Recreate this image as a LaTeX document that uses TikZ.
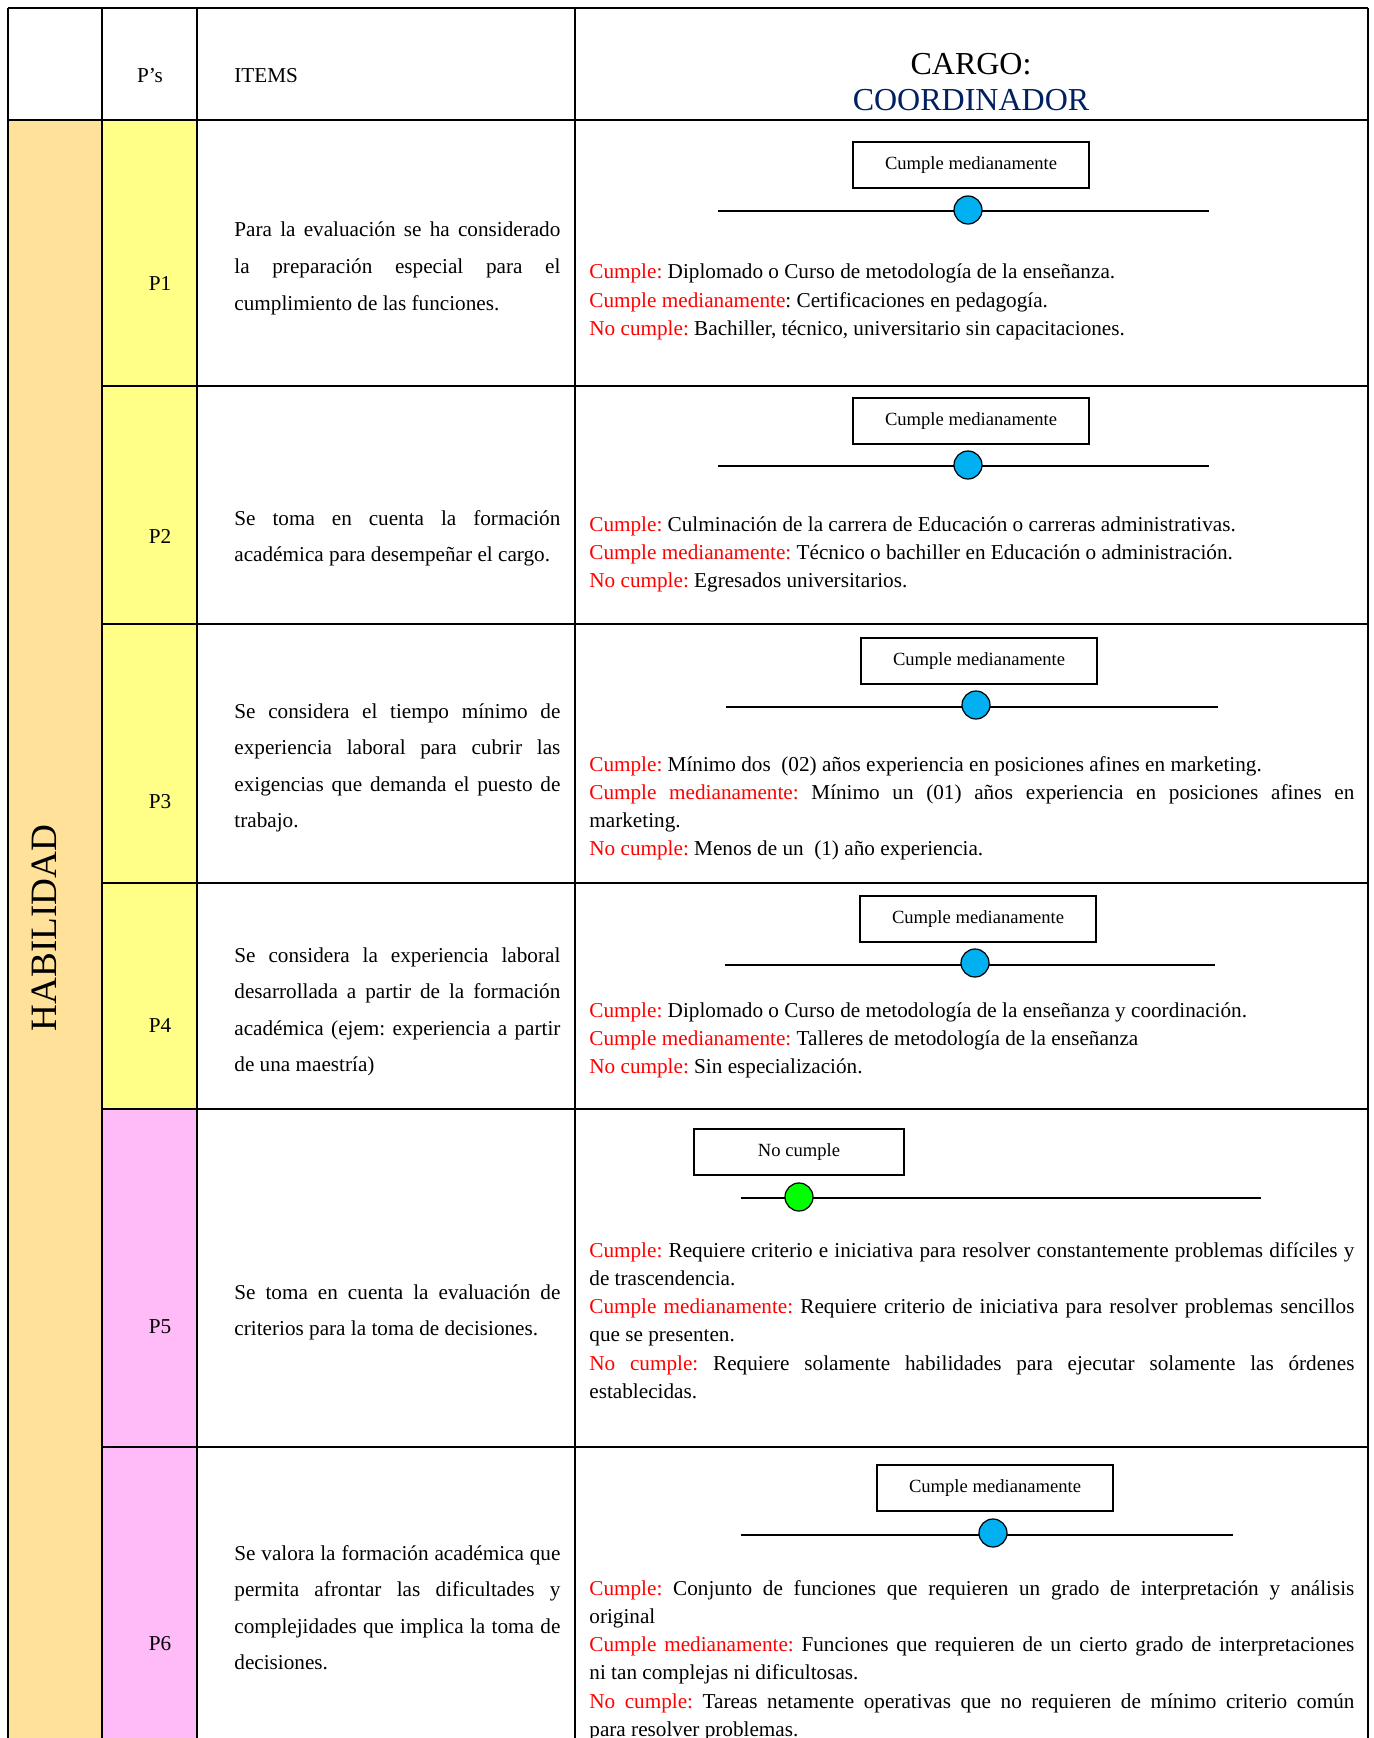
\documentclass[tikz,border=0pt]{standalone}
\usepackage{fontspec}
\setmainfont{Liberation Serif}[WordSpace={1,1.5,0}]
\usetikzlibrary{positioning}
\definecolor{habil}{HTML}{FFE199}
\definecolor{ylw}{HTML}{FFFF88}
\definecolor{pnk}{HTML}{FFBBF7}
\definecolor{dotblue}{HTML}{00B0F0}
\definecolor{navy}{HTML}{002060}
\hyphenpenalty=10000
\exhyphenpenalty=10000
\tolerance=9999
\frenchspacing
\tikzset{font=\fontsize{10.6}{13}\selectfont}
\tikzstyle{grid}=[line width=1.3pt]
\tikzstyle{item}=[anchor=base west,inner sep=0pt,text width=163pt,align=justify,font=\fontsize{10.6}{18.3}\selectfont]
\tikzstyle{crit}=[anchor=base west,inner sep=0pt,text width=382.5pt,align=justify,font=\fontsize{10.6}{14.15}\selectfont]
\tikzstyle{vbox}=[draw,line width=1pt,minimum width=118pt,minimum height=23pt,font=\fontsize{9.3}{11}\selectfont]
\tikzstyle{circ}=[circle,draw,line width=0.6pt,fill=dotblue,minimum size=14pt,inner sep=0pt]
\tikzstyle{bar}=[line width=0.7pt]
\newcommand{\rojo}[1]{\textcolor{red}{#1}}

\begin{document}
\begin{tikzpicture}[x=0.5pt,y=-0.5pt]
\useasboundingbox (0,0) rectangle (1373,1738);
% cell fills
\fill[habil] (8,120) rectangle (102,1745);
\fill[ylw] (102,120) rectangle (197,1109);
\fill[pnk] (102,1109) rectangle (197,1745);
% table lines
\draw[grid] (8,8) -- (1368,8);
\draw[grid] (8,120) -- (1368,120);
\foreach \y in {386,624,883,1109,1447}
  \draw[grid] (102,\y) -- (1368,\y);
\foreach \x in {8,102,197,575,1368}
  \draw[grid] (\x,8) -- (\x,1745);
% header
\node (ps) at (150,76) {P’s};
\node[anchor=west,inner sep=0pt] (items) at (234,76) {ITEMS};
\node[font=\fontsize{16}{18}\selectfont] (cargo) at (971,64) {CARGO:};
\node[font=\fontsize{16}{18}\selectfont,text=navy] (coord) at (971,100) {COORDINADOR};
\node[rotate=90,font=\fontsize{18.6}{20}\selectfont] (hab) at (44,928) {HABILIDAD};
% P's
\node (P1) at (160,284) {P1};
\node (P2) at (160,536) {P2};
\node (P3) at (160,802) {P3};
\node (P4) at (160,1026) {P4};
\node (P5) at (160,1327) {P5};
\node (P6) at (160,1644) {P6};
% items
\node[item] (I1) at (234,237) {Para la evaluación se ha considerado la preparación especial para el cumplimiento de las funciones.};
\node[item] (I2) at (234,525) {Se toma en cuenta la formación académica para desempeñar el cargo.};
\node[item] (I3) at (234,718) {Se considera el tiempo mínimo de experiencia laboral para cubrir las exigencias que demanda el puesto de trabajo.};
\node[item] (I4) at (234,962) {Se considera la experiencia laboral desarrollada a partir de la formación académica (ejem: experiencia a partir de una maestría)};
\node[item] (I5) at (234,1299) {Se toma en cuenta la evaluación de criterios para la toma de decisiones.};
\node[item] (I6) at (234,1560) {Se valora la formación académica que\linebreak permita afrontar las dificultades y complejidades que implica la toma de decisiones.};
% sliders
\node[vbox] (B1) at (971,165) {Cumple medianamente};
\coordinate (s1a) at (718,211); \coordinate (s1b) at (1209,211);
\draw[bar] (s1a) -- (s1b);
\node[circ] (D1) at (968,210) {};
\node[vbox] (B2) at (971,421) {Cumple medianamente};
\coordinate (s2a) at (718,466); \coordinate (s2b) at (1209,466);
\draw[bar] (s2a) -- (s2b);
\node[circ] (D2) at (968,465) {};
\node[vbox] (B3) at (979,661) {Cumple medianamente};
\coordinate (s3a) at (726,707); \coordinate (s3b) at (1218,707);
\draw[bar] (s3a) -- (s3b);
\node[circ] (D3) at (976,705) {};
\node[vbox] (B4) at (978,919) {Cumple medianamente};
\coordinate (s4a) at (725,965); \coordinate (s4b) at (1215,965);
\draw[bar] (s4a) -- (s4b);
\node[circ] (D4) at (975,963) {};
\node[vbox,minimum width=105pt] (B5) at (799,1152) {No cumple};
\coordinate (s5a) at (741,1198); \coordinate (s5b) at (1261,1198);
\draw[bar] (s5a) -- (s5b);
\node[circ,fill=green] (D5) at (799,1197) {};
\node[vbox] (B6) at (995,1488) {Cumple medianamente};
\coordinate (s6a) at (741,1535); \coordinate (s6b) at (1233,1535);
\draw[bar] (s6a) -- (s6b);
\node[circ] (D6) at (993,1533) {};
% criteria
\node[crit] (C1) at (589,279) {\rojo{Cumple:} Diplomado o Curso de metodología de la enseñanza.\par
\rojo{Cumple medianamente}: Certificaciones en pedagogía.\par
\rojo{No cumple:} Bachiller, técnico, universitario sin capacitaciones.};
\node[crit] (C2) at (589,531) {\rojo{Cumple:} Culminación de la carrera de Educación o carreras administrativas.\par
\rojo{Cumple medianamente:} Técnico o bachiller en Educación o administración.\par
\rojo{No cumple:} Egresados universitarios.};
\node[crit] (C3) at (589,771) {\rojo{Cumple:} Mínimo dos\ \ (02) años experiencia en posiciones afines en marketing.\par
\rojo{Cumple medianamente:} Mínimo un (01) años experiencia en posiciones afines en marketing.\par
\rojo{No cumple:} Menos de un\ \ (1) año experiencia.};
\node[crit] (C4) at (589,1017) {\rojo{Cumple:} Diplomado o Curso de metodología de la enseñanza y coordinación.\par
\rojo{Cumple medianamente:} Talleres de metodología de la enseñanza\par
\rojo{No cumple:} Sin especialización.};
\node[crit] (C5) at (589,1257) {\rojo{Cumple:} Requiere criterio e iniciativa para resolver constantemente problemas difíciles y de trascendencia.\par
\rojo{Cumple medianamente:} Requiere criterio de iniciativa para resolver problemas sencillos que se presenten.\par
\rojo{No cumple:} Requiere solamente habilidades para ejecutar solamente las órdenes establecidas.};
\node[crit] (C6) at (589,1595) {\rojo{Cumple:} Conjunto de funciones que requieren un grado de interpretación y análisis original\par
\rojo{Cumple medianamente:} Funciones que requieren de un cierto grado de interpretaciones\linebreak ni tan complejas ni dificultosas.\par
\rojo{No cumple:} Tareas netamente operativas que no requieren de mínimo criterio común\linebreak para resolver problemas.};
\end{tikzpicture}
\end{document}
